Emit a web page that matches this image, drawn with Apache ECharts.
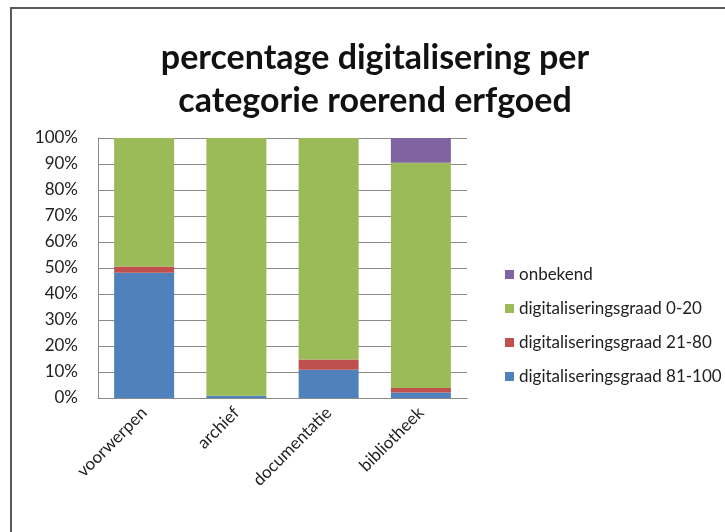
<!DOCTYPE html>
<html>
<head>
<meta charset="utf-8">
<script src="https://cdn.jsdelivr.net/npm/echarts@6/dist/echarts.min.js"></script>
<style>
  html, body { margin: 0; padding: 0; background: #fff; }
  #chart { width: 725px; height: 532px; }
</style>
</head>
<body>
<div id="chart"></div>
<script>
const categories = ['voorwerpen', 'archief', 'documentatie', 'bibliotheek'];
const graad81_100 = [48.2, 0.9, 10.9, 2.1];
const graad21_80 = [2.4, 0, 3.9, 1.7];
const graad0_20 = [49.4, 99.1, 85.2, 86.7];
const onbekend = [0, 0, 0, 9.5];
const yTicks = [0, 10, 20, 30, 40, 50, 60, 70, 80, 90, 100];

const font = 'Lato, "Open Sans", sans-serif';

function bar(name, data, color) {
  return {
    name: name,
    type: 'bar',
    stack: 'total',
    barWidth: 60,
    data: data,
    itemStyle: { color: color }
  };
}

const chart = echarts.init(document.getElementById('chart'));
chart.setOption({
  backgroundColor: '#ffffff',
  animation: false,
  textStyle: { fontFamily: font },
  graphic: [{
    type: 'rect',
    shape: { x: 11, y: 8, width: 800, height: 600 },
    style: { fill: 'none', stroke: '#5a5a5a', lineWidth: 2 }
  }],
  title: {
    text: 'percentage digitalisering per\ncategorie roerend erfgoed',
    left: 370,
    top: 32,
    textAlign: 'center',
    textStyle: {
      fontFamily: font,
      fontSize: 34,
      fontWeight: 'bold',
      color: '#111',
      lineHeight: 43
    }
  },
  legend: {
    orient: 'vertical',
    left: 500,
    top: 261,
    itemWidth: 9,
    itemHeight: 9,
    itemGap: 17,
    icon: 'rect',
    data: ['onbekend', 'digitaliseringsgraad 0-20', 'digitaliseringsgraad 21-80', 'digitaliseringsgraad 81-100'],
    textStyle: { fontFamily: font, fontSize: 17, color: '#222' }
  },
  grid: { left: 98, right: 258, top: 138, bottom: 134 },
  xAxis: {
    type: 'category',
    data: categories,
    axisLine: { show: true, lineStyle: { color: '#898989' } },
    axisTick: { show: false },
    axisLabel: {
      rotate: 45,
      fontFamily: font,
      fontSize: 17,
      color: '#222',
      margin: 12
    }
  },
  yAxis: {
    type: 'value',
    min: yTicks[0],
    max: yTicks[yTicks.length - 1],
    interval: 10,
    axisLine: { show: true, lineStyle: { color: '#898989' } },
    axisTick: { show: false },
    splitLine: { lineStyle: { color: '#898989', width: 1 } },
    axisLabel: {
      formatter: '{value}%',
      fontFamily: font,
      fontSize: 17,
      color: '#222',
      margin: 20
    }
  },
  series: [
    bar('digitaliseringsgraad 81-100', graad81_100, '#4f81bd'),
    bar('digitaliseringsgraad 21-80', graad21_80, '#c0504d'),
    bar('digitaliseringsgraad 0-20', graad0_20, '#9bbb59'),
    bar('onbekend', onbekend, '#8064a2')
  ]
});
</script>
</body>
</html>
